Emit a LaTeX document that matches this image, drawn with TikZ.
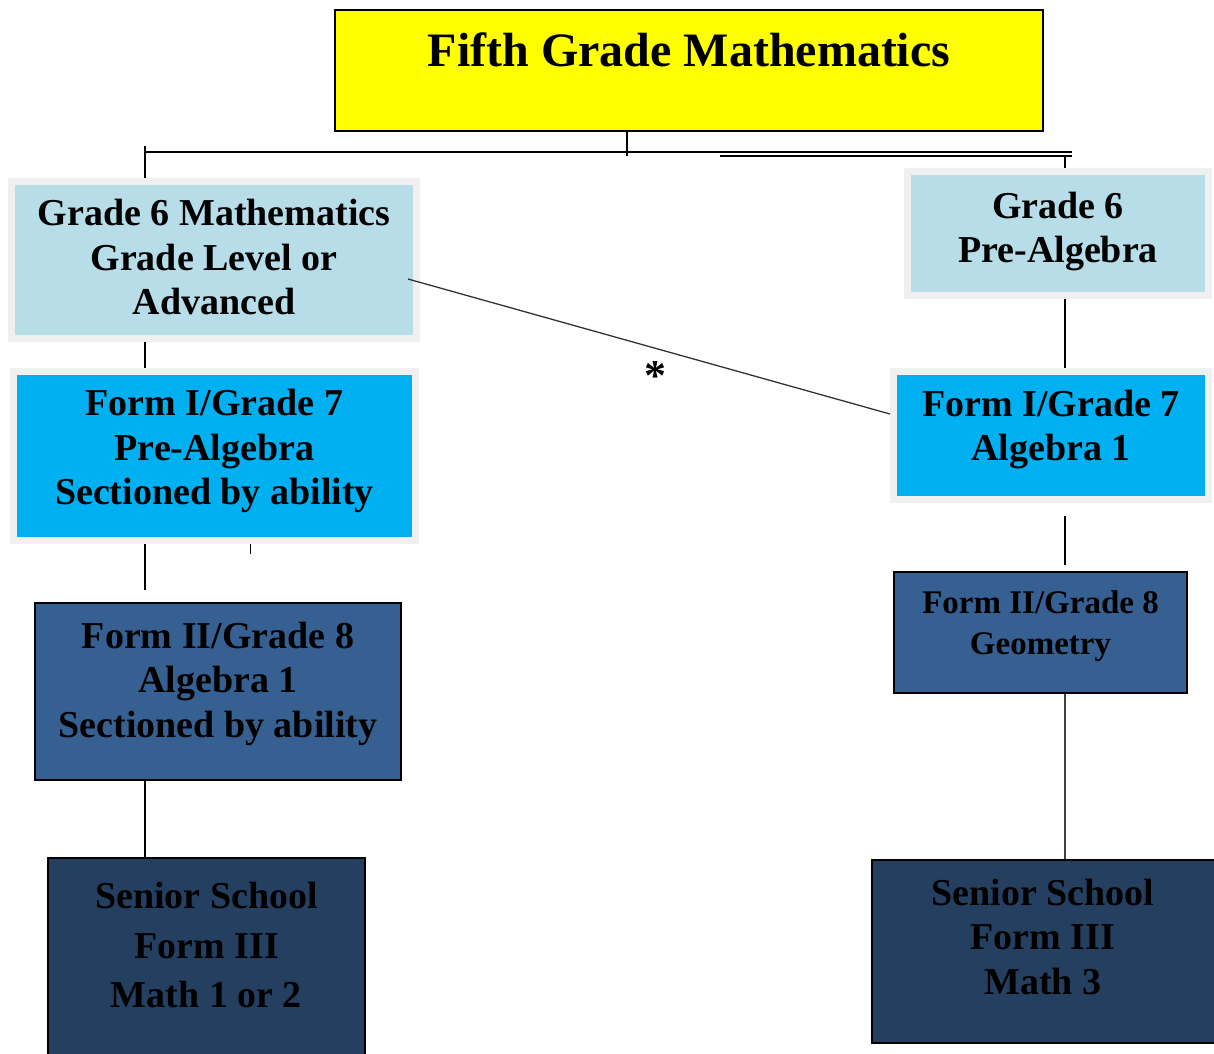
\documentclass[tikz,border=0pt]{standalone}
\usepackage{fontspec}
\setmainfont{Liberation Serif}
\usepackage{tikz}
\usetikzlibrary{positioning, calc}
\definecolor{paleblue}{HTML}{B7DDE8}
\definecolor{skyblue}{HTML}{00B0F0}
\definecolor{midblue}{HTML}{376092}
\definecolor{navyblue}{HTML}{243F60}
\definecolor{halogray}{HTML}{F0F0F0}
\definecolor{titleyellow}{HTML}{FFFF00}

\begin{document}
\begin{tikzpicture}[x=1pt, y=-1pt,
    box/.style={rectangle, draw=black, line width=2pt, fill=#1, inner sep=0pt, align=center, font=\bfseries\fontsize{38}{44.5}\selectfont},
    box/.default=midblue,
    halo/.style={rectangle, draw=halogray, line width=7pt, fill=#1, inner sep=0pt, align=center, font=\bfseries\fontsize{38}{44.5}\selectfont},
    halo/.default=paleblue,
    link/.style={line width=2pt},
]
\useasboundingbox (0,0) rectangle (1214,1053);

% top level
\node[box=titleyellow, minimum width=708pt, minimum height=121pt] (title) at (689,70.5) {};
\node[font=\bfseries\fontsize{48}{52}\selectfont] (titletxt) at (689,50) {Fifth Grade Mathematics};

% left column
\node[halo, minimum width=405pt, minimum height=157pt, text depth=6pt] (g6l) at (214,260) {Grade 6 Mathematics\\Grade Level or\\Advanced};
\node[halo=skyblue, minimum width=402pt, minimum height=169pt, text depth=18pt] (f7l) at (214.5,456) {Form I/Grade 7\\Pre-Algebra\\Sectioned by ability};
\node[box, minimum width=366pt, minimum height=177pt, text depth=24pt] (f8l) at (218,691.5) {Form II/Grade 8\\Algebra 1\\Sectioned by ability};
\node[box=navyblue, minimum width=317pt, minimum height=204pt, text depth=30pt, font=\bfseries\fontsize{38}{49.5}\selectfont] (sl) at (206.5,960) {Senior School\\Form III\\Math 1 or 2};

% right column
\node[halo, minimum width=301pt, minimum height=124pt, text depth=12pt] (g6r) at (1058,233.5) {Grade 6\\Pre-Algebra};
\node[halo=skyblue, minimum width=315pt, minimum height=128pt, text depth=20pt] (f7r) at (1051,435.5) {Form I/Grade 7\\Algebra 1};
\node[box, minimum width=293pt, minimum height=121pt, text depth=19pt, font=\bfseries\fontsize{33}{41}\selectfont] (f8r) at (1040.5,632.5) {Form II/Grade 8\\Geometry};
\node[box=navyblue, minimum width=343pt, minimum height=183pt, text depth=30pt] (sr) at (1043,951.5) {Senior School\\Form III\\Math 3};

\node[font=\bfseries\fontsize{44}{44}\selectfont] (star) at (655,376) {*};

% connectors
\coordinate (spineL) at (145,0);
\coordinate (spineR) at (1065,0);
\coordinate (tick) at (250,0);
\coordinate (hubL) at (145,152);
\coordinate (hubR) at (1072,152);
\coordinate (trunk) at (627,156);
\coordinate (barS) at (720,156);
\coordinate (barE) at (1072,156);

\draw[line width=1.5pt] (title.south -| trunk) -- (trunk);
\draw[line width=2.5pt] (hubL) -- (hubR);
\draw[line width=1.5pt] (barS) -- (barE);
\draw[link] ([yshift=6pt]hubL) -- (g6l.north -| spineL);
\draw[link] (barE -| spineR) -- (g6r.north -| spineR);
\draw[link] (g6l.south -| spineL) -- (f7l.north -| spineL);
\draw[link] (f7l.south -| spineL) -- ([yshift=12pt]f8l.north -| spineL);
\draw[line width=1pt] (f7l.south -| tick) -- ++(0,10);
\draw[link] (f8l.south -| spineL) -- (sl.north -| spineL);
\draw[link] (g6r.south -| spineR) -- (f7r.north -| spineR);
\draw[link] ([yshift=-13pt]f7r.south -| spineR) -- ([yshift=6pt]f8r.north -| spineR);
\draw[line width=2.5pt, black!75] (f8r.south -| spineR) -- (sr.north -| spineR);
\draw[line width=1.3pt, black!80] ([shift={(-12,19)}]g6l.east) -- ([shift={(0,-21.5)}]f7r.west);
\end{tikzpicture}
\end{document}
